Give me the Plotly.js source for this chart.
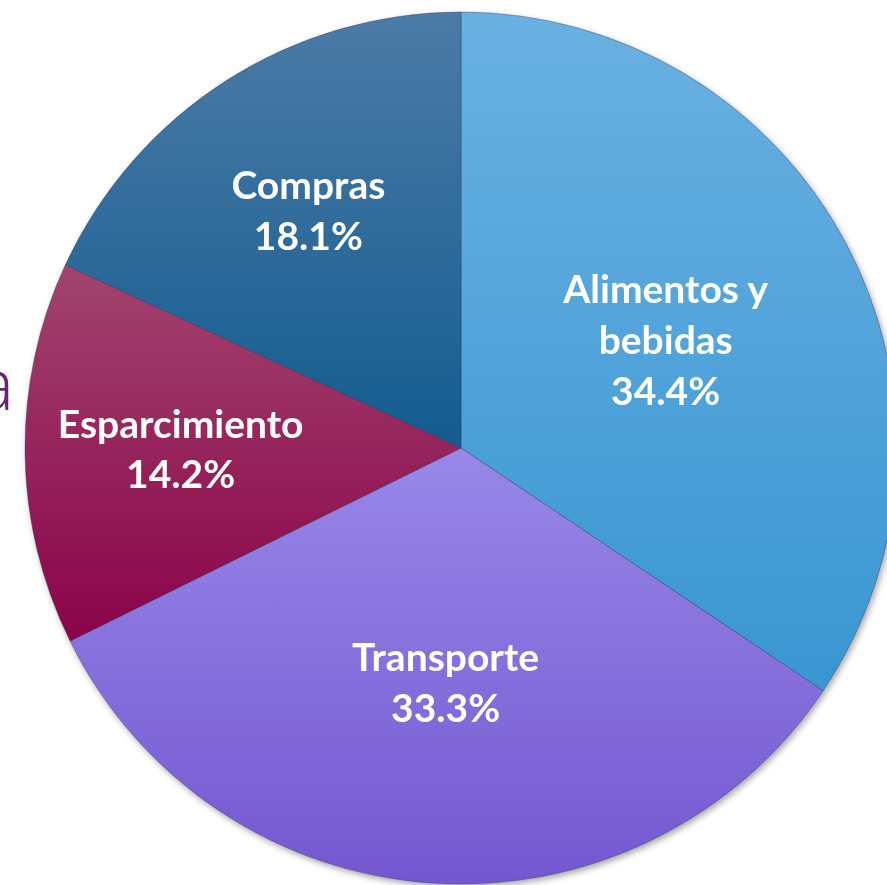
<!DOCTYPE html>
<html>
<head>
<meta charset="utf-8">
<script src="https://cdn.plot.ly/plotly-3.0.1.min.js"></script>
<style>
html, body { margin: 0; padding: 0; overflow: hidden; background: #ffffff; }
#chart { width: 910px; height: 885px; }
</style>
</head>
<body>
<div id="chart"></div>
<script>
// Data
const categories = ["Alimentos y bebidas", "Transporte", "Esparcimiento", "Compras"];
const displayLabels = ["Alimentos y<br>bebidas", "Transporte", "Esparcimiento", "Compras"];
const shares = [34.4, 33.3, 14.2, 18.1];

// Styles
const baseColors = ["#4CA5DE", "#8670E0", "#950E56", "#1E6698"];
const gradTop = ["#6AB1E2", "#9888E9", "#A2446F", "#4C7BA7"];
const gradBottom = ["#3996D2", "#7457D0", "#8A0349", "#135C90"];

const trace = {
  type: "pie",
  labels: categories,
  values: shares,
  text: displayLabels,
  sort: false,
  direction: "clockwise",
  rotation: 0,
  textinfo: "text+percent",
  texttemplate: "%{text}<br>%{percent:.1%}",
  textposition: "inside",
  insidetextorientation: "horizontal",
  insidetextfont: { family: "Lato, 'Open Sans', sans-serif", size: 39, color: "#ffffff", weight: 700 },
  marker: { colors: baseColors, line: { color: "rgba(40,40,80,0.35)", width: 1 } },
  domain: { x: [25 / 910, 897 / 910], y: [1 / 885, 873 / 885] },
  hoverinfo: "label+percent",
  showlegend: false
};

const layout = {
  width: 910,
  height: 885,
  margin: { l: 0, r: 0, t: 0, b: 0, pad: 0 },
  paper_bgcolor: "#ffffff",
  showlegend: false,
  annotations: [{
    text: "a",
    xref: "paper", yref: "paper",
    x: 16 / 910, y: 1 - 382 / 885,
    xanchor: "right", yanchor: "middle",
    showarrow: false,
    font: { family: "'Open Sans', sans-serif", size: 72, color: "#6E2272", weight: 300 }
  }]
};

Plotly.newPlot("chart", [trace], layout, { staticPlot: true, displayModeBar: false }).then(function (gd) {
  const svgNS = "http://www.w3.org/2000/svg";
  const svg = gd.querySelector("svg.main-svg");
  let defs = svg.querySelector("defs");
  if (!defs) { defs = document.createElementNS(svgNS, "defs"); svg.insertBefore(defs, svg.firstChild); }
  gradTop.forEach(function (c, i) {
    const lg = document.createElementNS(svgNS, "linearGradient");
    lg.setAttribute("id", "sliceGrad" + i);
    lg.setAttribute("x1", "0"); lg.setAttribute("y1", "0");
    lg.setAttribute("x2", "0"); lg.setAttribute("y2", "1");
    const s1 = document.createElementNS(svgNS, "stop");
    s1.setAttribute("offset", "0"); s1.setAttribute("stop-color", c);
    const s2 = document.createElementNS(svgNS, "stop");
    s2.setAttribute("offset", "1"); s2.setAttribute("stop-color", gradBottom[i]);
    lg.appendChild(s1); lg.appendChild(s2);
    defs.appendChild(lg);
  });
  const paths = gd.querySelectorAll("g.slice path.surface");
  paths.forEach(function (p, i) {
    const d = p.__data__;
    const idx = d && d[0] ? d[0].i : (d && typeof d.i === "number" ? d.i : i);
    p.style.fill = "url(#sliceGrad" + idx + ")";
  });
  const pieLayer = gd.querySelector(".pielayer");
  if (pieLayer) pieLayer.style.filter = "drop-shadow(2px 3px 3px rgba(0,0,0,0.35))";
});
</script>
</body>
</html>
